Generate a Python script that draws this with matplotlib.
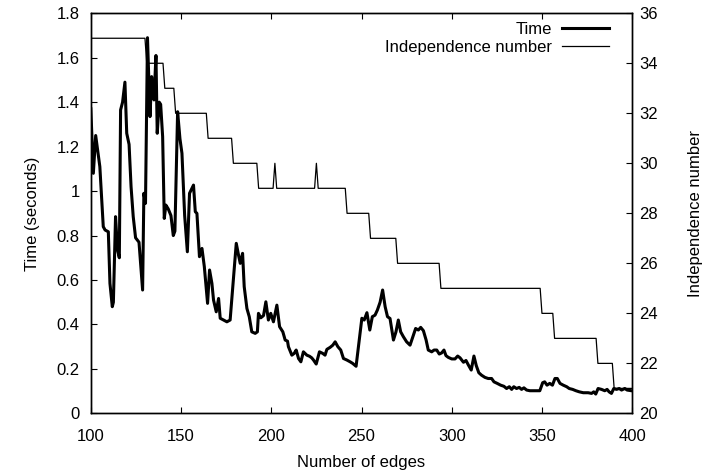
"""
Time and independence number against number of edges (gnuplot-style figure).
"""

import numpy as np
import matplotlib
matplotlib.use("Agg")
import matplotlib.pyplot as plt
from matplotlib.ticker import FuncFormatter

plt.rcParams["font.family"] = ["Liberation Sans", "DejaVu Sans"]
plt.rcParams["font.size"] = 12

#######################################################
# DATA

time_x = [
    100, 101.4, 102.7, 105, 106.9, 107.9, 109.7, 110.6, 111.9, 112.5,
    113.7, 114.8, 115.8, 116.5, 117.6, 118.9, 119.9, 121.2, 122.3, 123.5,
    124.8, 126.7, 128.7, 129.4, 130.3, 131.4, 132.8, 133.7, 134.2, 135,
    136.1, 136.8, 137.9, 138.7, 139.8, 140.7, 141.6, 142.9, 144.4, 145.7,
    146.6, 148.1, 149.4, 150.5, 152, 153.5, 154.7, 156.9, 157.9, 158.8,
    160.2, 161.6, 162.9, 164.7, 165.8, 167.1, 168, 169.5, 170.8, 171.7,
    173.5, 175.4, 177.2, 178.7, 180.6, 181.9, 182.8, 184.1, 185, 186.5,
    187.8, 189.2, 191.1, 192.3, 192.9, 194.2, 195.7, 197, 198.4, 199.7,
    201.2, 203.1, 204.6, 206.4, 207.7, 209, 209.5, 211.4, 212.7, 213.8,
    215.1, 216.4, 217.8, 219.7, 221.2, 222.4, 223.4, 224.9, 226.7, 228.5,
    229.8, 230.8, 232.6, 234.1, 235.4, 236.9, 238.5, 240, 241.9, 243.7,
    245.1, 247, 248.3, 250.2, 251.5, 253, 254.6, 256, 257.5, 258.8,
    260.3, 261.7, 263.1, 264.4, 265.8, 267.7, 269.1, 270.4, 271.7, 273.2,
    275, 276.9, 278.7, 280, 281.5, 282.8, 284.3, 285.8, 287, 288.9,
    290.2, 291.7, 293.1, 294.4, 295.7, 296.8, 298.1, 300, 301.8, 303.3,
    304.6, 306.5, 307.9, 309.2, 310.8, 312.3, 313.6, 315, 316.5, 318.4,
    320.2, 322.1, 323.4, 325.2, 327.1, 328.9, 330.4, 331.9, 333.2, 334.4,
    335.9, 337.4, 338.7, 340, 341.5, 343.3, 346.1, 348.8, 350.4, 351.5,
    352.8, 354.3, 355.8, 357.2, 358.5, 360, 361.8, 363.7, 365.1, 367,
    368.8, 370.7, 372.9, 375.6, 377.5, 378.7, 379.8, 381.1, 383, 384.8,
    386.1, 387.2, 388.5, 389.8, 391.3, 392.8, 394.1, 395.9, 397.2, 399.6,
]

time_y = [
    1.37, 1.08, 1.25, 1.11, 0.84, 0.825, 0.817, 0.585, 0.48, 0.50,
    0.885, 0.735, 0.70, 1.365, 1.40, 1.49, 1.26, 1.21, 1.02, 0.885,
    0.79, 0.77, 0.555, 0.99, 0.945, 1.69, 1.335, 1.515, 1.45, 1.41,
    1.61, 1.26, 1.40, 1.39, 1.245, 0.877, 0.937, 0.92, 0.89, 0.80,
    0.82, 1.357, 1.235, 1.17, 0.89, 0.727, 0.99, 1.027, 0.907, 0.90,
    0.705, 0.742, 0.66, 0.495, 0.645, 0.585, 0.51, 0.457, 0.517, 0.428,
    0.42, 0.412, 0.42, 0.57, 0.765, 0.71, 0.675, 0.72, 0.57, 0.472,
    0.435, 0.367, 0.36, 0.367, 0.45, 0.43, 0.44, 0.502, 0.42, 0.45,
    0.412, 0.487, 0.39, 0.367, 0.33, 0.325, 0.30, 0.262, 0.27, 0.285,
    0.247, 0.232, 0.277, 0.262, 0.257, 0.25, 0.24, 0.222, 0.277, 0.27,
    0.262, 0.288, 0.297, 0.307, 0.322, 0.30, 0.285, 0.247, 0.24, 0.232,
    0.225, 0.212, 0.30, 0.428, 0.42, 0.453, 0.375, 0.435, 0.442, 0.465,
    0.50, 0.555, 0.48, 0.435, 0.427, 0.33, 0.367, 0.42, 0.367, 0.345,
    0.322, 0.307, 0.35, 0.382, 0.375, 0.387, 0.372, 0.33, 0.285, 0.277,
    0.285, 0.285, 0.267, 0.272, 0.285, 0.26, 0.252, 0.245, 0.245, 0.258,
    0.25, 0.23, 0.238, 0.218, 0.195, 0.258, 0.215, 0.183, 0.172, 0.162,
    0.157, 0.157, 0.142, 0.135, 0.127, 0.122, 0.112, 0.12, 0.108, 0.12,
    0.112, 0.117, 0.108, 0.115, 0.105, 0.102, 0.102, 0.102, 0.138, 0.142,
    0.127, 0.135, 0.127, 0.157, 0.157, 0.135, 0.127, 0.12, 0.112, 0.108,
    0.102, 0.097, 0.093, 0.093, 0.09, 0.097, 0.087, 0.112, 0.108, 0.102,
    0.108, 0.097, 0.09, 0.112, 0.108, 0.112, 0.105, 0.112, 0.105, 0.102,
]

# independence number: edge count where a new value starts, and that value
indep_start = [100, 131, 141, 147, 165, 179, 193, 202, 203, 225,
               226, 242, 255, 270, 294, 350, 357, 381, 390]
indep_value = [35, 34, 33, 32, 31, 30, 29, 30, 29, 30,
               29, 28, 27, 26, 25, 24, 23, 22, 21]

edges = np.arange(100, 401)
indep = np.array(indep_value)[
    np.searchsorted(indep_start, edges, side="right") - 1
]

#######################################################
# PLOT

fig = plt.figure(figsize=(7.04, 4.73), dpi=100)
ax = fig.add_axes([0.129, 0.126, 0.769, 0.846])
ax2 = ax.twinx()

l1, = ax.plot(time_x, time_y, color="black", linewidth=2.2,
              label="Time")
l2, = ax2.plot(edges, indep, color="black", linewidth=0.9,
               label="Independence number")

ax.set_xlim(100, 400)
ax.set_ylim(0, 1.8)
ax2.set_ylim(20, 36)

ax.set_xticks(np.arange(100, 401, 50))
ax.set_yticks(np.arange(0, 1.81, 0.2))
ax2.set_yticks(np.arange(20, 37, 2))

fmt = FuncFormatter(lambda v, p: f"{v:g}")
ax.yaxis.set_major_formatter(fmt)

ax.tick_params(direction="in", length=4, width=0.8, top=True,
               labelsize=12)
ax.tick_params(axis="x", pad=11)
ax.tick_params(axis="y", right=False, pad=8)
ax2.tick_params(direction="in", length=4, width=0.8, labelsize=12, pad=5)

for sp in list(ax.spines.values()) + list(ax2.spines.values()):
    sp.set_linewidth(1.0)

ax.set_xlabel("Number of edges", labelpad=8)
ax.set_ylabel("Time (seconds)", labelpad=12)
ax2.set_ylabel("Independence number", labelpad=22)

leg = ax.legend(
    handles=[l1, l2],
    loc="upper right",
    bbox_to_anchor=(0.9815, 1.0125),
    frameon=False,
    markerfirst=False,
    handlelength=2.8,
    handletextpad=0.6,
    labelspacing=0.2,
    borderaxespad=0.4,
    borderpad=0.4,
    fontsize=12,
)

plt.savefig("out.png", dpi=100)
plt.close()
